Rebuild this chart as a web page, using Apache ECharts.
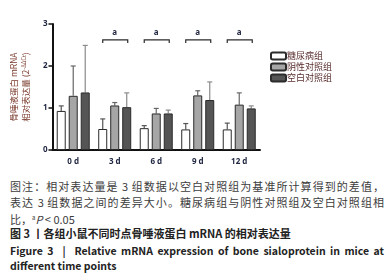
<!DOCTYPE html>
<html>
<head>
<meta charset="utf-8">
<script src="https://cdn.jsdelivr.net/npm/echarts@6/dist/echarts.min.js"></script>
<style>
  html, body { margin: 0; padding: 0; background: #fff; }
  #wrap { position: relative; width: 387px; height: 276px; overflow: hidden; }
  #chart { position: absolute; left: 0; top: 0; width: 387px; height: 176px; }
  .ln { position: absolute; left: 10px; width: 374px; font-family: "Noto Sans CJK SC", sans-serif; white-space: nowrap; }
  .note { font-size: 11px; line-height: 15px; color: #3c3c3c; }
  .just { text-align: justify; text-align-last: justify; }
  .title-cn { font-size: 11px; line-height: 15px; font-weight: bold; color: #222; }
  .title-en { font-size: 10.5px; line-height: 15px; font-weight: bold; color: #222; }
  sup { font-size: 6px; vertical-align: 4px; }
</style>
</head>
<body>
<div id="wrap">
  <div id="chart"></div>
  <div class="ln note just" style="top:179px">图注：相对表达量是 3 组数据以空白对照组为基准所计算得到的差值，</div>
  <div class="ln note just" style="top:194.5px">表达 3 组数据之间的差异大小。糖尿病组与阴性对照组及空白对照组相</div>
  <div class="ln note" style="top:210px">比，<sup>a</sup><i>P</i> &lt; 0.05</div>
  <div class="ln title-cn" style="top:225.5px">图 3 丨各组小鼠不同时点骨唾液蛋白 mRNA 的相对表达量</div>
  <div class="ln title-en just" style="top:243px">Figure 3&nbsp;&nbsp;|&nbsp;&nbsp;Relative mRNA expression of bone sialoprotein in mice at</div>
  <div class="ln title-en" style="top:257.5px">different time points</div>
</div>
<script>
// 数据
var categories = ['0 d', '3 d', '6 d', '9 d', '12 d'];
var seriesNames = ['糖尿病组', '阴性对照组', '空白对照组'];
var diabetes = [0.93, 0.50, 0.52, 0.49, 0.49];
var diabetesErr = [1.05, 0.74, 0.58, 0.63, 0.64];
var negative = [1.29, 1.06, 0.87, 1.30, 1.08];
var negativeErr = [2.00, 1.13, 0.99, 1.41, 1.36];
var blank = [1.37, 1.02, 0.87, 1.19, 0.99];
var blankErr = [2.49, 1.36, 0.95, 1.62, 1.05];
var sigIndex = [1, 2, 3, 4];
var sigLevel = [2.62, 2.62, 2.62, 2.62];
var sigLabel = 'a';

var barW = 9;
var barGapPx = 3;
var fills = ['#ffffff', '#a6a6a6', '#555555'];
var errColors = ['#555', '#666', '#8a8a8a'];

var chart = echarts.init(document.getElementById('chart'));

function barSeries(name, data, idx) {
  return {
    name: name,
    type: 'bar',
    barWidth: barW,
    barGap: (barGapPx / barW * 100) + '%',
    data: data,
    itemStyle: { color: fills[idx], borderColor: '#2b2b2b', borderWidth: 1 },
    z: 2
  };
}

function errSeries(vals, errs, idx) {
  var d = [];
  for (var i = 0; i < vals.length; i++) d.push([i, vals[i], errs[i]]);
  return {
    type: 'custom',
    data: d,
    z: 1,
    silent: true,
    renderItem: function (params, api) {
      var off = (idx - 1) * (barW + barGapPx);
      var top = api.coord([api.value(0), api.value(1)]);
      var hi = api.coord([api.value(0), api.value(2)]);
      var x = top[0] + off;
      return {
        type: 'group',
        children: [
          { type: 'line', shape: { x1: x, y1: top[1], x2: x, y2: hi[1] }, style: { stroke: errColors[idx], lineWidth: 1.2 } },
          { type: 'line', shape: { x1: x - 2.5, y1: hi[1], x2: x + 2.5, y2: hi[1] }, style: { stroke: errColors[idx], lineWidth: 1.2 } }
        ]
      };
    }
  };
}

var sigData = sigIndex.map(function (c, i) { return [c, sigLevel[i]]; });

var option = {
  animation: false,
  grid: { left: 46, right: 127, top: 24, bottom: 26, containLabel: false },
  legend: {
    data: seriesNames,
    orient: 'vertical',
    left: 265,
    top: 46,
    itemWidth: 15,
    itemHeight: 7,
    itemGap: 1,
    textStyle: { fontSize: 9, color: '#5a2e2e', fontFamily: 'Noto Sans CJK SC', padding: [0, 0, 0, -4], lineHeight: 10 }
  },
  xAxis: {
    type: 'category',
    data: categories,
    axisLine: { lineStyle: { color: '#111', width: 2 } },
    axisTick: { alignWithLabel: true, length: 4, lineStyle: { color: '#111', width: 1.5 } },
    axisLabel: { color: '#1f2540', fontSize: 8, fontWeight: 'bold', margin: 8, fontFamily: 'Noto Sans' }
  },
  yAxis: {
    type: 'value',
    min: 0,
    max: 3,
    interval: 1,
    name: '骨唾液蛋白 mRNA\n相对表达量 (2{sup|-ΔΔCt})',
    nameLocation: 'middle',
    nameRotate: 90,
    nameGap: 18,
    nameTextStyle: {
      color: '#7a3a2c',
      fontSize: 8.5,
      lineHeight: 12,
      fontFamily: 'Noto Sans CJK SC',
      rich: { sup: { fontSize: 5.5, color: '#7a3a2c', padding: [0, 0, 4, 0] } }
    },
    splitLine: { show: false },
    axisLine: { show: true, lineStyle: { color: '#111', width: 2 } },
    axisTick: { show: true, length: 4, lineStyle: { color: '#111', width: 1.5 } },
    axisLabel: { color: '#1f2540', fontSize: 8, fontWeight: 'bold', margin: 5, fontFamily: 'Noto Sans' }
  },
  series: [
    barSeries(seriesNames[0], diabetes, 0),
    barSeries(seriesNames[1], negative, 1),
    barSeries(seriesNames[2], blank, 2),
    errSeries(diabetes, diabetesErr, 0),
    errSeries(negative, negativeErr, 1),
    errSeries(blank, blankErr, 2),
    {
      type: 'custom',
      data: sigData,
      silent: true,
      renderItem: function (params, api) {
        var p = api.coord([api.value(0), api.value(1)]);
        var l = p[0] - (barW + barGapPx), r = p[0] + (barW + barGapPx) + 1;
        return {
          type: 'group',
          children: [
            { type: 'polyline', shape: { points: [[l, p[1] + 3], [l, p[1]], [r, p[1]], [r, p[1] + 3]] }, style: { stroke: '#2b2b2b', lineWidth: 1.2, fill: null } },
            { type: 'text', x: p[0], y: p[1] - 7, style: { text: sigLabel, fill: '#1f2540', fontSize: 8, fontWeight: 'bold', align: 'center', verticalAlign: 'middle', fontFamily: 'Noto Sans' } }
          ]
        };
      }
    }
  ]
};

chart.setOption(option);
</script>
</body>
</html>
